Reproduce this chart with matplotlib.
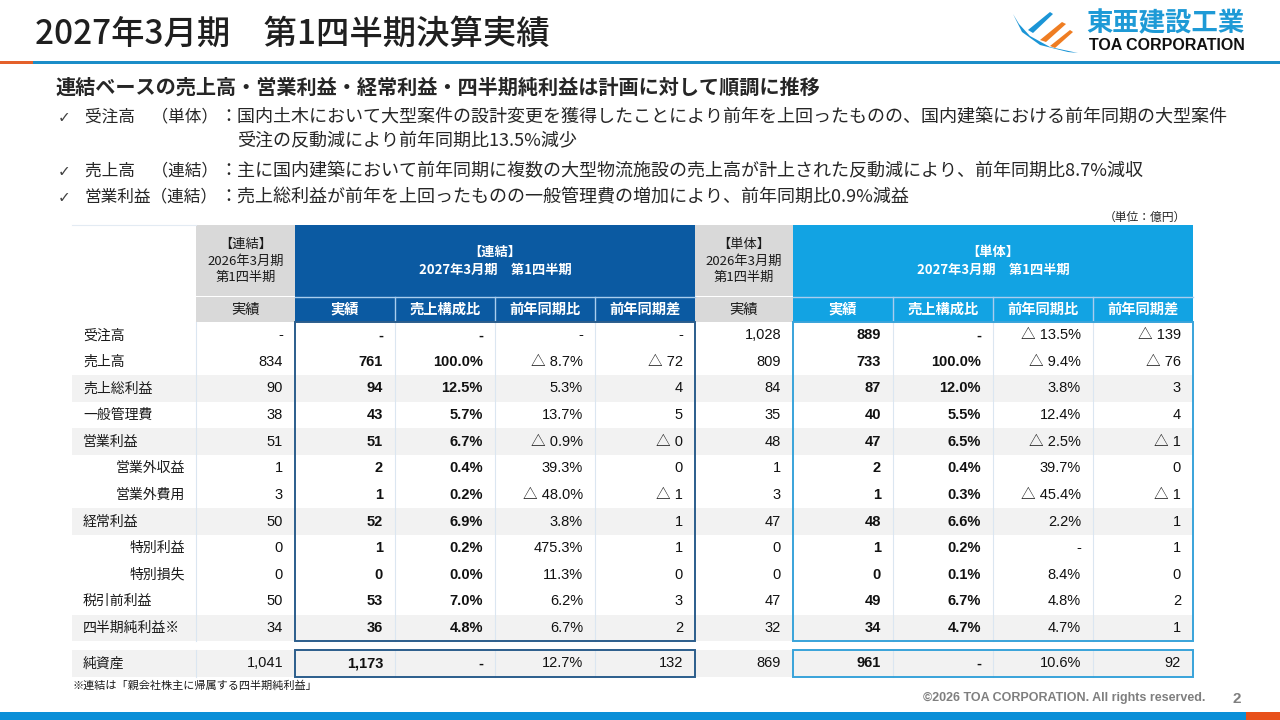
import matplotlib
matplotlib.use("Agg")
import matplotlib.pyplot as plt
from matplotlib.patches import Rectangle, Polygon
from matplotlib import font_manager

# ---------------- data ----------------
title = "2027年3月期　第1四半期決算実績"
subtitle = "連結ベースの売上高・営業利益・経常利益・四半期純利益は計画に対して順調に推移"
bullet_labels = ["受注高　（単体）", "売上高　（連結）", "営業利益（連結）"]
bullet_lines = [
    ["国内土木において大型案件の設計変更を獲得したことにより前年を上回ったものの、国内建築における前年同期の大型案件",
     "受注の反動減により前年同期比13.5%減少"],
    ["主に国内建築において前年同期に複数の大型物流施設の売上高が計上された反動減により、前年同期比8.7%減収"],
    ["売上総利益が前年を上回ったものの一般管理費の増加により、前年同期比0.9%減益"],
]
unit_label = "（単位：億円）"

row_labels = ["受注高", "売上高", "売上総利益", "一般管理費", "営業利益", "営業外収益", "営業外費用",
              "経常利益", "特別利益", "特別損失", "税引前利益", "四半期純利益※"]
row_indent = [False, False, False, False, False, True, True, False, True, True, False, False]
row_shaded = [False, False, True, False, True, False, False, True, False, False, False, True]
net_label = "純資産"

head_prev_con = "【連結】\n2026年3月期\n第1四半期"
head_cur_con = "【連結】\n2027年3月期　第1四半期"
head_prev_ind = "【単体】\n2026年3月期\n第1四半期"
head_cur_ind = "【単体】\n2027年3月期　第1四半期"
sub_heads = ["実績", "実績", "売上構成比", "前年同期比", "前年同期差",
             "実績", "実績", "売上構成比", "前年同期比", "前年同期差"]

con_prev = ["-", "834", "90", "38", "51", "1", "3", "50", "0", "0", "50", "34"]
con_act = ["-", "761", "94", "43", "51", "2", "1", "52", "1", "0", "53", "36"]
con_ratio = ["-", "100.0%", "12.5%", "5.7%", "6.7%", "0.4%", "0.2%", "6.9%", "0.2%", "0.0%", "7.0%", "4.8%"]
con_yoy = ["-", "△ 8.7%", "5.3%", "13.7%", "△ 0.9%", "39.3%", "△ 48.0%", "3.8%", "475.3%", "11.3%", "6.2%", "6.7%"]
con_diff = ["-", "△ 72", "4", "5", "△ 0", "0", "△ 1", "1", "1", "0", "3", "2"]
ind_prev = ["1,028", "809", "84", "35", "48", "1", "3", "47", "0", "0", "47", "32"]
ind_act = ["889", "733", "87", "40", "47", "2", "1", "48", "1", "0", "49", "34"]
ind_ratio = ["-", "100.0%", "12.0%", "5.5%", "6.5%", "0.4%", "0.3%", "6.6%", "0.2%", "0.1%", "6.7%", "4.7%"]
ind_yoy = ["△ 13.5%", "△ 9.4%", "3.8%", "12.4%", "△ 2.5%", "39.7%", "△ 45.4%", "2.2%", "-", "8.4%", "4.8%", "4.7%"]
ind_diff = ["△ 139", "△ 76", "3", "4", "△ 1", "0", "△ 1", "1", "1", "0", "2", "1"]
net_values = ["1,041", "1,173", "-", "12.7%", "132", "869", "961", "-", "10.6%", "92"]

footnote = "※連結は「親会社株主に帰属する四半期純利益」"
copyright_text = "©2026 TOA CORPORATION. All rights reserved."
page_no = "2"
logo_jp = "東亜建設工業"
logo_en = "TOA CORPORATION"

# ---------------- style / layout ----------------
names = {f.name for f in font_manager.fontManager.ttflist}
NUMF = "Liberation Sans Narrow" if "Liberation Sans Narrow" in names else "Liberation Sans"
NUM_SIZE = 11.5 if NUMF == "Liberation Sans Narrow" else 10.5
JP = "Noto Sans CJK JP"
plt.rcParams["font.family"] = [JP, "DejaVu Sans"]

DARK = "#0b5aa2"
LIGHT = "#12a3e3"
GRAY = "#d9d9d9"
STRIPE = "#f2f2f2"
ORANGE = "#e4602a"
TOPBLUE = "#1b8dc8"
TXT = "#262626"

col_edges = [196, 295, 395, 495, 595, 695, 793, 893, 993, 1093, 1193]
label_x0 = 72
head_top, head_mid, head_bot = 225, 297, 322
row_h = 26.6
net_top = 650
bold_cols = {1, 2, 6, 7}

fig = plt.figure(figsize=(12.8, 7.2), dpi=100)
ax = fig.add_axes([0, 0, 1, 1])
ax.set_xlim(0, 1280)
ax.set_ylim(720, 0)
ax.axis("off")

# ---------------- header band ----------------
ax.text(35, 34, title, fontsize=24, fontweight="medium", color="#1f1f1f", va="center", ha="left", family=[JP])
ax.add_patch(Rectangle((0, 61), 33, 3, color=ORANGE, lw=0))
ax.add_patch(Rectangle((33, 61), 1247, 3, color=TOPBLUE, lw=0))

# logo (decorative swoosh + text)
ax.add_patch(Polygon([[1013, 14], [1022, 32], [1040, 45], [1068, 52], [1078, 53],
                      [1050, 47], [1030, 36], [1019, 24]], closed=True, color="#1b95d6", lw=0))
ax.add_patch(Polygon([[1040, 40], [1062, 22], [1066, 24], [1046, 42]], closed=True, color="#ef7d22", lw=0))
ax.add_patch(Polygon([[1050, 46], [1070, 30], [1073, 32], [1055, 48]], closed=True, color="#ef7d22", lw=0))
ax.add_patch(Polygon([[1028, 30], [1050, 12], [1053, 14], [1033, 33]], closed=True, color="#1b95d6", lw=0))
ax.text(1245, 24, logo_jp, fontsize=19, fontweight="bold", color="#1e9ad6", ha="right", va="center", family=[JP])
ax.text(1245, 46, logo_en, fontsize=11.5, fontweight="bold", color="#111111", ha="right", va="center",
        family=["Liberation Sans"])

# ---------------- subtitle & bullets ----------------
ax.text(55, 87, subtitle, fontsize=14.5, fontweight="bold", color=TXT, va="center", ha="left", family=[JP])
bullet_y = [[117, 141], [171], [197]]
for lab, lines, ys in zip(bullet_labels, bullet_lines, bullet_y):
    ax.text(58, ys[0] + 1, "✓", fontsize=11, color="#404040", va="center", ha="left", family=["DejaVu Sans"])
    ax.text(85, ys[0], lab, fontsize=12, color=TXT, va="center", ha="left", family=[JP])
    for k, (ln, yy) in enumerate(zip(lines, ys)):
        if k == 0:
            ax.text(219, yy, "：" + ln, fontsize=13, color=TXT, va="center", ha="left", family=[JP])
        else:
            ax.text(237, yy, ln, fontsize=13, color=TXT, va="center", ha="left", family=[JP])
ax.text(1186, 217, unit_label, fontsize=8.5, color=TXT, va="center", ha="right", family=[JP])

# ---------------- table header ----------------
def cell(x0, x1, y0, y1, fc, ec="none", lw=0):
    ax.add_patch(Rectangle((x0, y0), x1 - x0, y1 - y0, facecolor=fc, edgecolor=ec, lw=lw))

ax.plot([label_x0, col_edges[0]], [head_top, head_top], color="#e3ebf3", lw=0.8)
for ci in (0, 5):
    cell(col_edges[ci], col_edges[ci + 1], head_top, head_mid - 1.5, GRAY)
    cell(col_edges[ci], col_edges[ci + 1], head_mid, head_bot, GRAY)
for (c0, c1, fc) in ((1, 5, DARK), (6, 10, LIGHT)):
    cell(col_edges[c0], col_edges[c1], head_top, head_bot, fc)
    ax.plot([col_edges[c0], col_edges[c1]], [head_mid, head_mid], color="#a9cdee", lw=1.0)
    for k in range(c0 + 1, c1):
        ax.plot([col_edges[k], col_edges[k]], [head_mid, head_bot], color="#a9cdee", lw=1.0)

hy = (head_top + head_mid) / 2
hdr_font = dict(fontsize=9.5, va="center", ha="center", linespacing=1.35, family=[JP])
ax.text((col_edges[0] + col_edges[1]) / 2, hy, head_prev_con, color="#1a1a1a", **hdr_font)
ax.text((col_edges[1] + col_edges[5]) / 2, hy, head_cur_con, color="white", fontweight="bold", **hdr_font)
ax.text((col_edges[5] + col_edges[6]) / 2, hy, head_prev_ind, color="#1a1a1a", **hdr_font)
ax.text((col_edges[6] + col_edges[10]) / 2, hy, head_cur_ind, color="white", fontweight="bold", **hdr_font)
sy = (head_mid + head_bot) / 2
for i, sh in enumerate(sub_heads):
    white = i not in (0, 5)
    ax.text((col_edges[i] + col_edges[i + 1]) / 2, sy, sh, fontsize=10.3, va="center", ha="center",
            color="white" if white else "#1a1a1a", fontweight="bold" if white else "normal", family=[JP])

# ---------------- table body ----------------
columns = [con_prev, con_act, con_ratio, con_yoy, con_diff, ind_prev, ind_act, ind_ratio, ind_yoy, ind_diff]
n = len(row_labels)
body_bot = head_bot + n * row_h

for r in range(n):
    y0 = head_bot + r * row_h
    if row_shaded[r]:
        cell(label_x0, col_edges[-1], y0, y0 + row_h, STRIPE)
cell(label_x0, col_edges[-1], net_top, net_top + row_h, STRIPE)

for k in (0, 2, 3, 4, 7, 8, 9):
    for (a, b) in ((head_bot, body_bot), (net_top, net_top + row_h)):
        ax.plot([col_edges[k], col_edges[k]], [a, b], color="#dbe6f1", lw=0.8, zorder=2)

for (c0, c1, ec) in ((1, 5, "#2b5d8c"), (6, 10, "#38a3da")):
    for (a, b) in ((head_bot, body_bot), (net_top, net_top + row_h)):
        ax.add_patch(Rectangle((col_edges[c0], a), col_edges[c1] - col_edges[c0], b - a,
                               facecolor="none", edgecolor=ec, lw=1.4, zorder=3))

num_font = [NUMF, JP]
LABEL_SIZE = 10
for r in range(n):
    yc = head_bot + (r + 0.5) * row_h
    if row_indent[r]:
        ax.text(185, yc, row_labels[r], fontsize=LABEL_SIZE, ha="right", va="center", color="#1a1a1a", family=[JP])
    else:
        ax.text(83, yc, row_labels[r], fontsize=LABEL_SIZE, ha="left", va="center", color="#1a1a1a", family=[JP])
    for ci, colvals in enumerate(columns):
        ax.text(col_edges[ci + 1] - 12, yc, colvals[r], fontsize=NUM_SIZE, ha="right", va="center",
                color="#111111", fontweight="bold" if ci in bold_cols else "normal", family=num_font, zorder=4)

yc = net_top + row_h / 2
ax.text(83, yc, net_label, fontsize=LABEL_SIZE, ha="left", va="center", color="#1a1a1a", family=[JP])
for ci, v in enumerate(net_values):
    ax.text(col_edges[ci + 1] - 12, yc, v, fontsize=NUM_SIZE, ha="right", va="center", color="#111111",
            fontweight="bold" if ci in bold_cols else "normal", family=num_font, zorder=4)

# ---------------- footer ----------------
ax.text(73, 686, footnote, fontsize=8, ha="left", va="center", color="#1a1a1a", family=[JP])
ax.text(1205, 698, copyright_text, fontsize=9, fontweight="bold", ha="right", va="center", color="#7f7f7f",
        family=["Liberation Sans"])
ax.text(1237, 699, page_no, fontsize=11, fontweight="bold", ha="center", va="center", color="#7f7f7f",
        family=["Liberation Sans"])
ax.add_patch(Rectangle((0, 712), 1246, 8, color="#0a8fd8", lw=0))
ax.add_patch(Rectangle((1246, 712), 34, 8, color="#e8501a", lw=0))

fig.savefig("out.png", dpi=100)
